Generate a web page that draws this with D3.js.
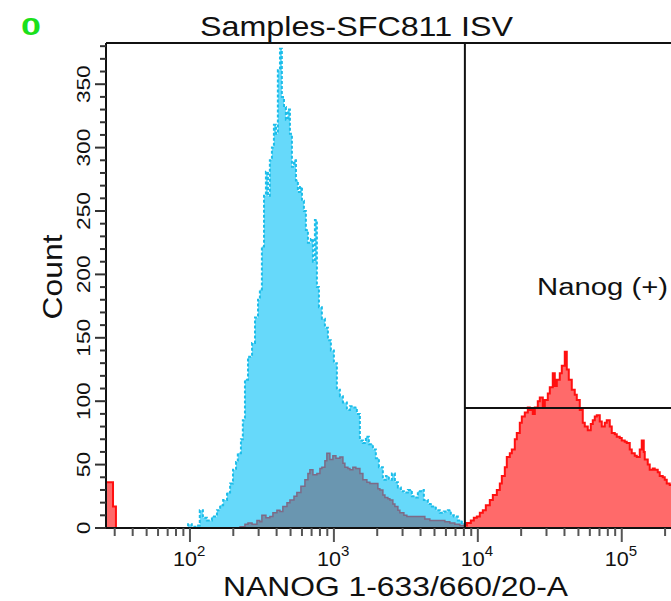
<!DOCTYPE html>
<html>
<head>
<meta charset="utf-8">
<script src="https://cdn.jsdelivr.net/npm/d3@7"></script>
<style>
  body { margin: 0; background: #fff; }
  text { font-family: "Liberation Sans", Arial, sans-serif; }
</style>
</head>
<body>
<div id="chart"></div>
<script>
// histogram series: [fluorescence, count], drawn as steps
const isvCounts = [
  [92, 0], [97, 3], [103, 1], [112, 2], [117, 14], [123, 8], [131, 6], [142, 9],
  [154, 14], [162, 18], [170, 22], [181, 28], [190, 35], [199, 46], [209, 52], [215, 59],
  [226, 70], [233, 85], [241, 117], [253, 135], [270, 146], [283, 166], [297, 180], [306, 188],
  [316, 222], [327, 262], [337, 281], [348, 262], [359, 290], [371, 300], [383, 318], [396, 311],
  [408, 361], [422, 378], [435, 340], [450, 332], [464, 322], [479, 330], [495, 311], [511, 285],
  [528, 290], [545, 274], [562, 265], [581, 269], [600, 258], [619, 250], [639, 235], [660, 225],
  [692, 228], [715, 210], [738, 243], [762, 190], [787, 174], [825, 165], [866, 158], [909, 148],
  [953, 140], [1000, 130], [1049, 109], [1101, 104], [1155, 99], [1231, 93], [1292, 96], [1355, 95],
  [1444, 90], [1516, 69], [1590, 67], [1668, 72], [1750, 66], [1866, 62], [1957, 55], [2054, 48],
  [2189, 38], [2297, 41], [2410, 38], [2529, 43], [2653, 36], [2783, 32], [2920, 29], [3063, 28],
  [3265, 30], [3481, 25], [3652, 24], [3831, 29], [4019, 30], [4217, 22], [4495, 19], [4792, 17],
  [5109, 14], [5446, 12], [5806, 13], [6189, 14], [6494, 10], [6813, 9], [7263, 6], [7743, 4],
  [8254, 3], [8799, 5], [9380, 3], [10000, 2], [10660, 3], [11365, 1], [12115, 3], [12915, 0]
];

const controlCounts = [
  [209, 0], [223, 1], [241, 3], [253, 4], [270, 3], [292, 6], [306, 5], [316, 10],
  [337, 8], [359, 9], [377, 12], [402, 14], [422, 13], [442, 17], [472, 20], [495, 22],
  [528, 25], [553, 28], [590, 33], [629, 38], [660, 43], [681, 46], [715, 42], [762, 43],
  [800, 47], [825, 48], [866, 53], [894, 59], [938, 54], [984, 57], [1033, 55], [1101, 56],
  [1155, 51], [1192, 48], [1251, 47], [1292, 46], [1355, 48], [1421, 47], [1516, 43], [1590, 38],
  [1695, 36], [1778, 35], [1926, 35], [2021, 31], [2086, 30], [2189, 26], [2261, 24], [2371, 23],
  [2448, 22], [2568, 19], [2653, 17], [2783, 14], [2873, 12], [3063, 10], [3213, 9], [3537, 9],
  [3956, 9], [4284, 7], [4642, 6], [5446, 6], [5899, 5], [6390, 4], [6922, 3], [7499, 2],
  [8123, 1], [8799, 0]
];

const nanogCounts = [
  [26.1, 36], [29.2, 17], [30.6, 0], [8123, 2],
  [8387, 4], [8942, 6], [9380, 8], [9842, 9], [10325, 12], [10832, 14], [11365, 18], [12115, 22],
  [12715, 26], [13552, 30], [14219, 35], [14678, 41], [15399, 48], [15900, 56], [16681, 59], [17223, 62],
  [18066, 70], [18654, 75], [19573, 83], [20209, 88], [21200, 91], [22247, 95], [22967, 93], [24095, 90],
  [24880, 95], [26101, 100], [26950, 103], [28275, 96], [29196, 101], [30631, 106], [31623, 111], [33173, 122],
  [34257, 112], [35375, 117], [37104, 122], [38312, 128], [40189, 139], [41500, 125], [42853, 117], [44950, 109],
  [47150, 105], [48696, 101], [51081, 93], [53588, 83], [55341, 80], [58058, 77], [60906, 82], [62900, 85],
  [64938, 88], [67047, 89], [70345, 84], [72629, 80], [76193, 83], [78671, 85], [82540, 80], [85210, 75],
  [89422, 74], [92343, 72], [96854, 71], [100000, 69], [104910, 68], [108320, 67], [113650, 62], [117340, 59],
  [123100, 57], [127150, 56], [133350, 62], [137680, 69], [142190, 60], [144460, 54], [151580, 50], [156440, 46],
  [164130, 47], [169490, 46], [177830, 44], [183570, 41], [192580, 40], [198910, 38], [205370, 35], [215440, 34],
  [229680, 30], [244850, 28], [262144, 0]
];

const yTicks = [0, 50, 100, 150, 200, 250, 300, 350];
const xDecades = [2, 3, 4, 5];
const gateValue = 8130;     // Nanog (+) gate start
const gateMarker = 94.6;    // horizontal gate bar level

const width = 671;
const height = 601;
const margin = { left: 106, top: 43, bottom: 73, right: -11 };

const svg = d3.select("#chart")
              .append("svg")
              .attr("width", width)
              .attr("height", height);

const x = d3.scaleLog()
            .domain([26.1, 262144])
            .range([margin.left, width - margin.right]);

const y = d3.scaleLinear()
            .domain([0, 382.5])
            .range([height - margin.bottom, margin.top]);

const area = d3.area()
               .x(d => x(d[0]))
               .y0(y(0))
               .y1(d => y(d[1]))
               .curve(d3.curveStepAfter);

const line = d3.line()
               .x(d => x(d[0]))
               .y(d => y(d[1]))
               .curve(d3.curveStepAfter);

// histograms
svg.append("path").attr("d", area(isvCounts)).attr("fill", "#66d9fa");
svg.append("path").attr("d", line(isvCounts))
   .attr("fill", "none").attr("stroke", "#1cbde9").attr("stroke-width", 2)
   .attr("stroke-dasharray", "3,2");

svg.append("path").attr("d", area(controlCounts)).attr("fill", "#6a96b0");
svg.append("path").attr("d", line(controlCounts))
   .attr("fill", "none").attr("stroke", "#7d6a86").attr("stroke-width", 1.5);

svg.append("path").attr("d", area(nanogCounts)).attr("fill", "#ff6a6a");
svg.append("path").attr("d", line(nanogCounts))
   .attr("fill", "none").attr("stroke", "#ff1010").attr("stroke-width", 2);

// frame
const x0 = margin.left, yTop = margin.top, yBot = height - margin.bottom;
svg.append("line").attr("x1", x0).attr("x2", width).attr("y1", yTop).attr("y2", yTop)
   .attr("stroke", "#111").attr("stroke-width", 2);
svg.append("line").attr("x1", x0).attr("x2", x0).attr("y1", yTop).attr("y2", yBot)
   .attr("stroke", "#111").attr("stroke-width", 2);
svg.append("line").attr("x1", x0 - 11).attr("x2", width).attr("y1", yBot).attr("y2", yBot)
   .attr("stroke", "#111").attr("stroke-width", 2);

// y ticks
svg.append("g").selectAll("line")
   .data(d3.range(0, 381, 10))
   .enter().append("line")
   .attr("x1", d => d % 50 === 0 ? x0 - 11 : x0 - 6)
   .attr("x2", x0)
   .attr("y1", d => y(d)).attr("y2", d => y(d))
   .attr("stroke", "#333").attr("stroke-width", 2);

svg.append("g").selectAll("text")
   .data(yTicks)
   .enter().append("text")
   .attr("transform", d => `translate(90,${y(d)}) rotate(-90)`)
   .attr("text-anchor", "middle")
   .attr("font-size", 18)
   .attr("textLength", d => String(d).length * 12.6)
   .attr("lengthAdjust", "spacingAndGlyphs")
   .attr("fill", "#111")
   .text(d => d);

// x ticks (major decades + minor 2..9)
const minorTicks = [];
[1, 2, 3, 4, 5].forEach(p => {
  for (let m = 1; m <= 9; m++) {
    const v = m * Math.pow(10, p);
    if (v >= 30 && v <= 262144) minorTicks.push(v);
  }
});

svg.append("g").selectAll("line")
   .data(minorTicks)
   .enter().append("line")
   .attr("x1", d => x(d)).attr("x2", d => x(d))
   .attr("y1", yBot)
   .attr("y2", d => xDecades.includes(Math.round(Math.log10(d) * 1000) / 1000) ? yBot + 14 : yBot + 8)
   .attr("stroke", "#555").attr("stroke-width", 2);

const xLabels = svg.append("g").selectAll("text")
   .data(xDecades)
   .enter().append("text")
   .attr("x", d => x(Math.pow(10, d)) - 17)
   .attr("y", yBot + 38)
   .attr("font-size", 21)
   .attr("fill", "#111");
xLabels.append("tspan").text("10").attr("textLength", 24).attr("lengthAdjust", "spacingAndGlyphs");
xLabels.append("tspan").text(d => d).attr("font-size", 15).attr("dy", -10);

// gate
svg.append("line")
   .attr("x1", x(gateValue)).attr("x2", x(gateValue))
   .attr("y1", yTop).attr("y2", yBot)
   .attr("stroke", "#111").attr("stroke-width", 2);
svg.append("line")
   .attr("x1", x(gateValue)).attr("x2", width)
   .attr("y1", y(gateMarker)).attr("y2", y(gateMarker))
   .attr("stroke", "#111").attr("stroke-width", 2);

svg.append("text")
   .attr("x", 537).attr("y", 295)
   .attr("font-size", 23)
   .attr("textLength", 131).attr("lengthAdjust", "spacingAndGlyphs")
   .attr("fill", "#111")
   .text("Nanog (+)");

// titles
svg.append("text")
   .attr("x", 200).attr("y", 36)
   .attr("font-size", 28)
   .attr("textLength", 313).attr("lengthAdjust", "spacingAndGlyphs")
   .attr("fill", "#111")
   .text("Samples-SFC811 ISV");

svg.append("text")
   .attr("x", 223).attr("y", 596)
   .attr("font-size", 27)
   .attr("textLength", 345).attr("lengthAdjust", "spacingAndGlyphs")
   .attr("fill", "#111")
   .text("NANOG 1-633/660/20-A");

svg.append("text")
   .attr("transform", "translate(62,277) rotate(-90)")
   .attr("text-anchor", "middle")
   .attr("font-size", 28)
   .attr("textLength", 85).attr("lengthAdjust", "spacingAndGlyphs")
   .attr("fill", "#111")
   .text("Count");

svg.append("text")
   .attr("x", 21).attr("y", 35)
   .attr("font-size", 24)
   .attr("font-weight", "bold")
   .attr("textLength", 20).attr("lengthAdjust", "spacingAndGlyphs")
   .attr("fill", "#1be01b")
   .text("0");
</script>
</body>
</html>
